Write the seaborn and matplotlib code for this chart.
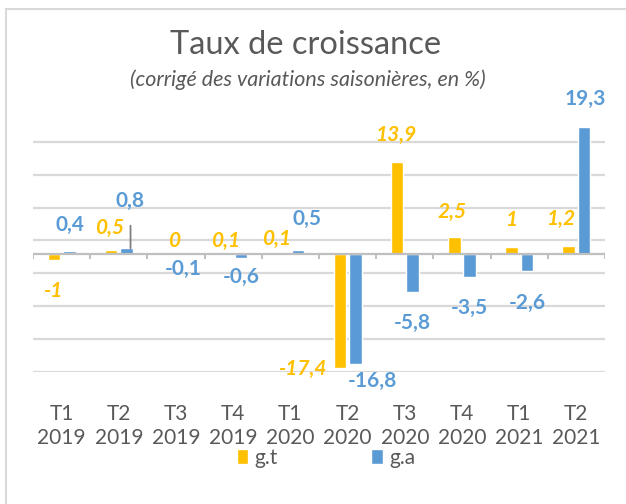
import numpy as np
import pandas as pd
import matplotlib.pyplot as plt
import seaborn as sns
from matplotlib.patches import Rectangle

# data
periods = ["T1\n2019", "T2\n2019", "T3\n2019", "T4\n2019", "T1\n2020",
           "T2\n2020", "T3\n2020", "T4\n2020", "T1\n2021", "T2\n2021"]
series = ["g.t", "g.a"]
gt_values = [-1, 0.5, 0, 0.1, 0.1, -17.4, 13.9, 2.5, 1, 1.2]
ga_values = [0.4, 0.8, -0.1, -0.6, 0.5, -16.8, -5.8, -3.5, -2.6, 19.3]

colors = {"g.t": "#FFC000", "g.a": "#5B9BD5"}
# label offsets in pixels from the bar end (Excel labels were moved by hand)
gt_offsets = [(-1, -31), (-1, 22), (6, 13), (0, 12), (-6, 14),
              (-38, -1), (-1, 27), (-2, 25), (0, 27), (-8, 27)]
ga_offsets = [(1, 26), (4, 47), (-1, -15), (0, -19), (9, 31),
              (17, -17), (0, -31), (0, -31), (0, -32), (1, 28)]

df = pd.DataFrame({
    "period": periods * 2,
    "serie": ["g.t"] * len(periods) + ["g.a"] * len(periods),
    "value": gt_values + ga_values,
})

sns.set_style("white")
plt.rcParams["font.family"] = ["Lato", "DejaVu Sans"]

fig = plt.figure(figsize=(6.26, 5.04), dpi=100)
ax = fig.add_axes([33 / 626, 1 - 372 / 504, 572 / 626, 250 / 504])

sns.barplot(data=df, x="period", y="value", hue="serie", palette=colors,
            width=0.54, gap=0.185, ax=ax, saturation=1, errorbar=None)

ax.set_ylim(-18, 20)
ax.set_xlim(-0.5, 9.5)
ax.set_yticks(np.arange(-18, 20, 5))
ax.set_yticklabels([])
ax.yaxis.grid(True, color="#D9D9D9", linewidth=1.6)
ax.set_axisbelow(True)
for s in ax.spines.values():
    s.set_visible(False)

# zero axis line with category tick marks
ax.axhline(0, color="#BFBFBF", linewidth=1.6, zorder=1.5)
ax.vlines(np.arange(-0.5, 10, 1), -0.8, 0, color="#BFBFBF", linewidth=1.4)

ax.set_xlabel("")
ax.set_ylabel("")
ax.tick_params(axis="x", length=0, pad=23, labelsize=15, labelcolor="#595959")
for lab in ax.get_xticklabels():
    lab.set_linespacing(1.25)
ax.tick_params(axis="y", length=0)

# data labels
px_to_x = 1 / 57.2  # one pixel in category units
label_setup = [(gt_values, gt_offsets, "g.t", "italic"),
               (ga_values, ga_offsets, "g.a", "normal")]
for container, (vals, offs, name, style) in zip(ax.containers, label_setup):
    for patch, v, (dx, dy) in zip(container.patches, vals, offs):
        x = patch.get_x() + patch.get_width() / 2
        y = patch.get_y() + patch.get_height()
        txt = f"{v:g}".replace(".", ",")
        kw = {}
        if name == "g.a" and v == 0.8:
            # leader line drawn straight down from the moved label
            x = x + dx * px_to_x
            dx = 0
            kw["arrowprops"] = dict(arrowstyle="-", color="#7F7F7F", lw=1.3,
                                    shrinkA=8, shrinkB=0)
        ax.annotate(txt, xy=(x, y), xytext=(dx, dy),
                    textcoords="offset pixels", ha="center", va="center",
                    fontsize=15, fontweight="bold", fontstyle=style,
                    color=colors[name], **kw)

sns.move_legend(ax, "lower center", bbox_to_anchor=(0.512, -0.458), ncol=2,
                frameon=False, title=None, fontsize=15, handlelength=0.55,
                handleheight=0.7, handletextpad=0.3, columnspacing=4.5)
for t in ax.get_legend().get_texts():
    t.set_color("#595959")

fig.text(306 / 626, 1 - 45 / 504, "Taux de croissance", ha="center",
         va="center", fontsize=23.5, color="#595959")
fig.text(308 / 626, 1 - 80 / 504,
         "(corrigé des variations saisonières, en %)", ha="center",
         va="center", fontsize=15.5, fontstyle="italic", color="#595959")

fig.patches.append(Rectangle((6 / 626, -0.1), 1.2, 1.1 - 9 / 504,
                             transform=fig.transFigure, fill=False,
                             edgecolor="#D9D9D9", linewidth=1.5))

fig.savefig("out.png", dpi=100)
